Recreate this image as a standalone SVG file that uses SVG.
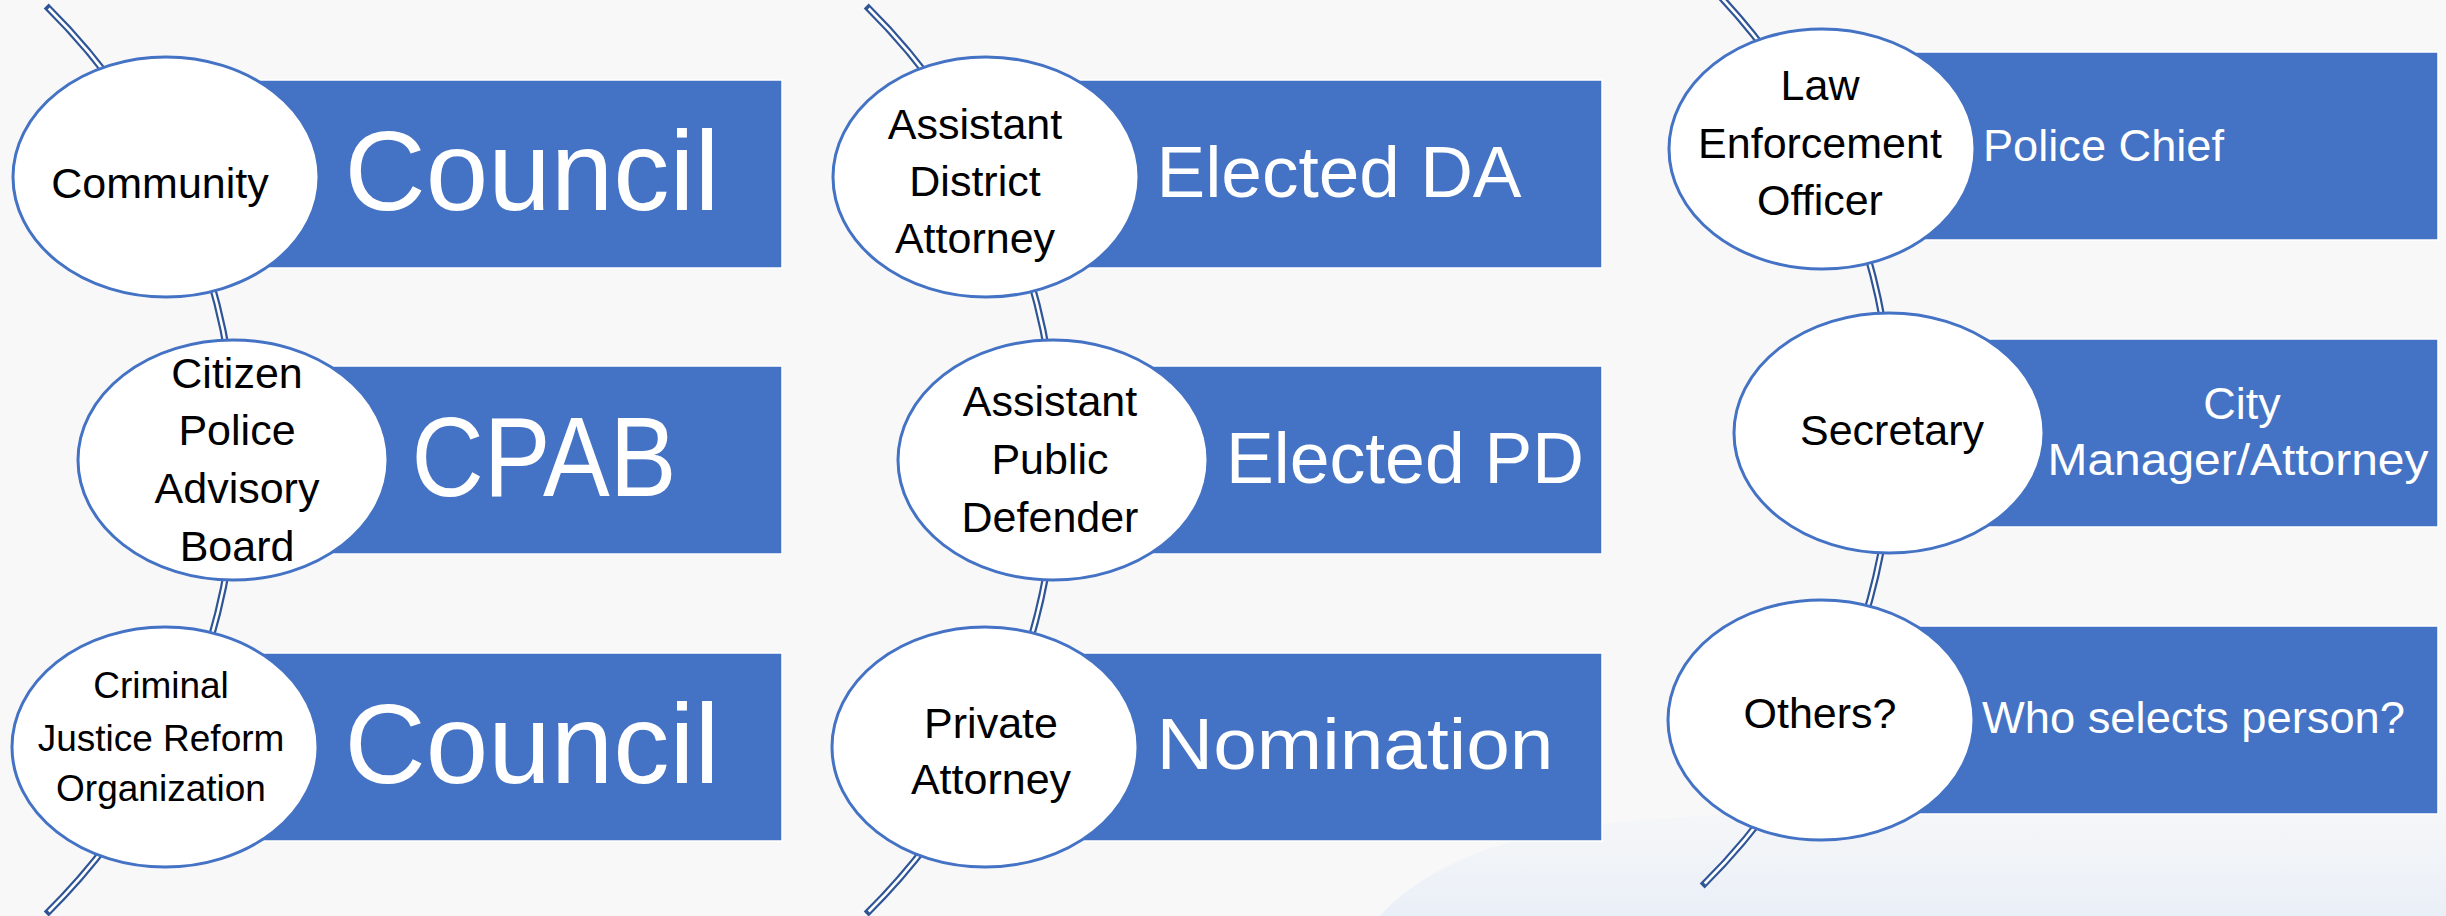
<svg xmlns="http://www.w3.org/2000/svg" width="2446" height="916" viewBox="0 0 2446 916">
<defs>
<style>
.bg{fill:#f8f8f8}
.bar{fill:#4472c4;stroke:#ffffff;stroke-width:1.5}
.oval{fill:#ffffff;stroke:#4472c4;stroke-width:3}
.lineOut{fill:none;stroke:#2f5597;stroke-width:7}
.lineIn{fill:none;stroke:#ffffff;stroke-width:2.6}
.t{font-family:"Liberation Sans",Arial,sans-serif;fill:#000000;font-size:43px;text-anchor:middle}
.ts{font-size:37px}
.w{font-family:"Liberation Sans",Arial,sans-serif;fill:#ffffff}
.big{font-size:114px;text-anchor:middle}
.mid{font-size:72px;text-anchor:middle}
.sm{font-size:45px}
</style>
<linearGradient id="bgGrad" x1="0" y1="0" x2="1" y2="1">
<stop offset="0" stop-color="#f3f3f3"/>
<stop offset="0.3" stop-color="#fafafa"/>
<stop offset="0.7" stop-color="#fbfbfb"/>
<stop offset="1" stop-color="#f4f6f9"/>
</linearGradient>
<linearGradient id="blueFade" x1="0" y1="0" x2="0" y2="1">
<stop offset="0" stop-color="#eef2f8" stop-opacity="0"/>
<stop offset="1" stop-color="#e6edf7" stop-opacity="1"/>
</linearGradient>
</defs>
<rect class="bg" x="0" y="0" width="2446" height="916" fill="url(#bgGrad)"/>
<path d="M1380 916 C1430 860 1520 830 1640 820 L2100 790 L2446 760 L2446 916 Z" fill="url(#blueFade)" opacity="0.8"/>

<g id="connectors">
<path class="lineOut" d="M46.2 6 A637.3 637.3 0 0 1 46.2 914"/>
<path class="lineIn" d="M48.7 8.5 A637.3 637.3 0 0 1 48.7 911.5"/>
<path class="lineOut" d="M866.2 6 A637.3 637.3 0 0 1 866.2 914"/>
<path class="lineIn" d="M868.7 8.5 A637.3 637.3 0 0 1 868.7 911.5"/>
<path class="lineOut" d="M1702.2 -22 A637.3 637.3 0 0 1 1702.2 886"/>
<path class="lineIn" d="M1704.7 -19.5 A637.3 637.3 0 0 1 1704.7 883.5"/>
</g>

<!-- Column 1 -->
<g id="bar-council-1"><rect class="bar" x="166" y="80" width="616" height="188"/>
<text class="w big" x="532" y="210" textLength="375" lengthAdjust="spacingAndGlyphs">Council</text></g>
<g id="node-community"><ellipse class="oval" cx="166" cy="177" rx="153" ry="120"/>
<text class="t" x="160" y="198">Community</text></g>

<g id="bar-cpab"><rect class="bar" x="233" y="366" width="549" height="188"/>
<text class="w big" x="544" y="496" font-size="110" textLength="265" lengthAdjust="spacingAndGlyphs">CPAB</text></g>
<g id="node-cpab"><ellipse class="oval" cx="233" cy="460" rx="155" ry="120"/>
<text class="t" x="237" y="388">Citizen</text>
<text class="t" x="237" y="445">Police</text>
<text class="t" x="237" y="503">Advisory</text>
<text class="t" x="237" y="561">Board</text></g>

<g id="bar-council-2"><rect class="bar" x="165" y="653" width="617" height="188"/>
<text class="w big" x="532" y="783" textLength="375" lengthAdjust="spacingAndGlyphs">Council</text></g>
<g id="node-cjro"><ellipse class="oval" cx="165" cy="747" rx="153" ry="120"/>
<text class="t ts" x="161" y="698">Criminal</text>
<text class="t ts" x="161" y="751">Justice Reform</text>
<text class="t ts" x="161" y="801">Organization</text></g>

<!-- Column 2 -->
<g id="bar-elected-da"><rect class="bar" x="986" y="80" width="616" height="188"/>
<text class="w mid" x="1339" y="197" textLength="365" lengthAdjust="spacingAndGlyphs">Elected DA</text></g>
<g id="node-ada"><ellipse class="oval" cx="986" cy="177" rx="153" ry="120"/>
<text class="t" x="975" y="139">Assistant</text>
<text class="t" x="975" y="196">District</text>
<text class="t" x="975" y="253">Attorney</text></g>

<g id="bar-elected-pd"><rect class="bar" x="1053" y="366" width="549" height="188"/>
<text class="w mid" x="1405" y="483" font-size="73" textLength="358" lengthAdjust="spacingAndGlyphs">Elected PD</text></g>
<g id="node-apd"><ellipse class="oval" cx="1053" cy="460" rx="155" ry="120"/>
<text class="t" x="1050" y="416">Assistant</text>
<text class="t" x="1050" y="474">Public</text>
<text class="t" x="1050" y="532">Defender</text></g>

<g id="bar-nomination"><rect class="bar" x="985" y="653" width="617" height="188"/>
<text class="w mid" x="1355" y="769" font-size="70" textLength="397" lengthAdjust="spacingAndGlyphs">Nomination</text></g>
<g id="node-private"><ellipse class="oval" cx="985" cy="747" rx="153" ry="120"/>
<text class="t" x="991" y="738">Private</text>
<text class="t" x="991" y="794">Attorney</text></g>

<!-- Column 3 -->
<g id="bar-police-chief"><rect class="bar" x="1822" y="52" width="616" height="188"/>
<text class="w sm" x="1983" y="161" textLength="241" lengthAdjust="spacingAndGlyphs">Police Chief</text></g>
<g id="node-leo"><ellipse class="oval" cx="1822" cy="149" rx="153" ry="120"/>
<text class="t" x="1820" y="100">Law</text>
<text class="t" x="1820" y="158">Enforcement</text>
<text class="t" x="1820" y="215">Officer</text></g>

<g id="bar-city-manager"><rect class="bar" x="1889" y="339" width="549" height="188"/>
<text class="w sm" x="2242" y="419" text-anchor="middle">City</text>
<text class="w sm" x="2238" y="475" text-anchor="middle" textLength="381" lengthAdjust="spacingAndGlyphs">Manager/Attorney</text></g>
<g id="node-secretary"><ellipse class="oval" cx="1889" cy="433" rx="155" ry="120"/>
<text class="t" x="1892" y="445">Secretary</text></g>

<g id="bar-who-selects"><rect class="bar" x="1821" y="626" width="617" height="188"/>
<text class="w sm" x="1982" y="733" textLength="423" lengthAdjust="spacingAndGlyphs">Who selects person?</text></g>
<g id="node-others"><ellipse class="oval" cx="1821" cy="720" rx="153" ry="120"/>
<text class="t" x="1820" y="728">Others?</text></g>
</svg>
